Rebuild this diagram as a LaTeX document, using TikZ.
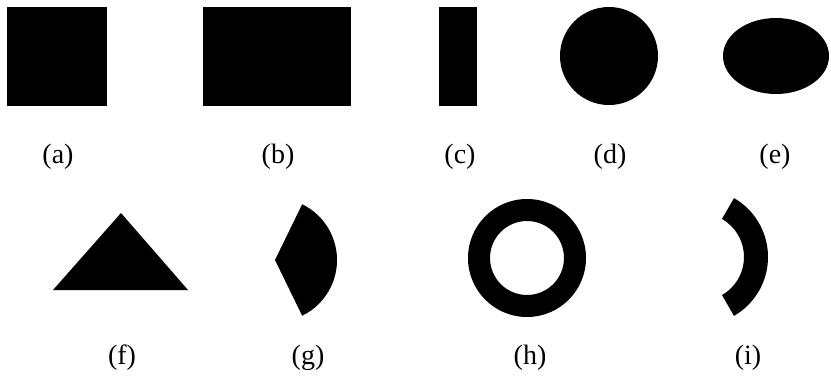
\documentclass[tikz,border=0pt]{standalone}
\usepackage{fontspec}
\setmainfont{Liberation Serif}
\tikzset{
  solid shape/.style={fill=black, line join=round},
  caption/.style={font=\fontsize{28}{32}\selectfont, inner sep=0pt},
}
\begin{document}
\begin{tikzpicture}[x=1pt,y=-1pt]
  \useasboundingbox (0,0) rectangle (831,378);
  % top row
  \fill [solid shape] (7,7) rectangle (107,106);
  \node [caption] (capa) at (58,157) {(a)};
  \fill [solid shape] (203,7) rectangle (351,106);
  \node [caption] (capb) at (278,157) {(b)};
  \fill [solid shape] (439,7) rectangle (477,106);
  \node [caption] (capc) at (460,157) {(c)};
  \fill [solid shape] (609,56) circle (49);
  \node [caption] (capd) at (610,157) {(d)};
  \fill [solid shape] (776,56) ellipse (53 and 38);
  \node [caption] (cape) at (775,157) {(e)};
  % bottom row
  \fill [solid shape] (53,290) -- (121,213) -- (188,290) -- cycle;
  \node [caption] (capf) at (122,358) {(f)};
  \fill [solid shape] (275,260) -- ++(-64:62) arc (-64:64:62) -- cycle;
  \node [caption] (capg) at (308,358) {(g)};
  \fill [solid shape, even odd rule] (527,258) circle (59) (527,258) circle (37);
  \node [caption] (caph) at (530,358) {(h)};
  \fill [solid shape] (700,257) ++(-60:68) arc (-60:60:68) -- ++(60:-24) arc (60:-60:44) -- cycle;
  \node [caption] (capi) at (748,358) {(i)};
\end{tikzpicture}
\end{document}
